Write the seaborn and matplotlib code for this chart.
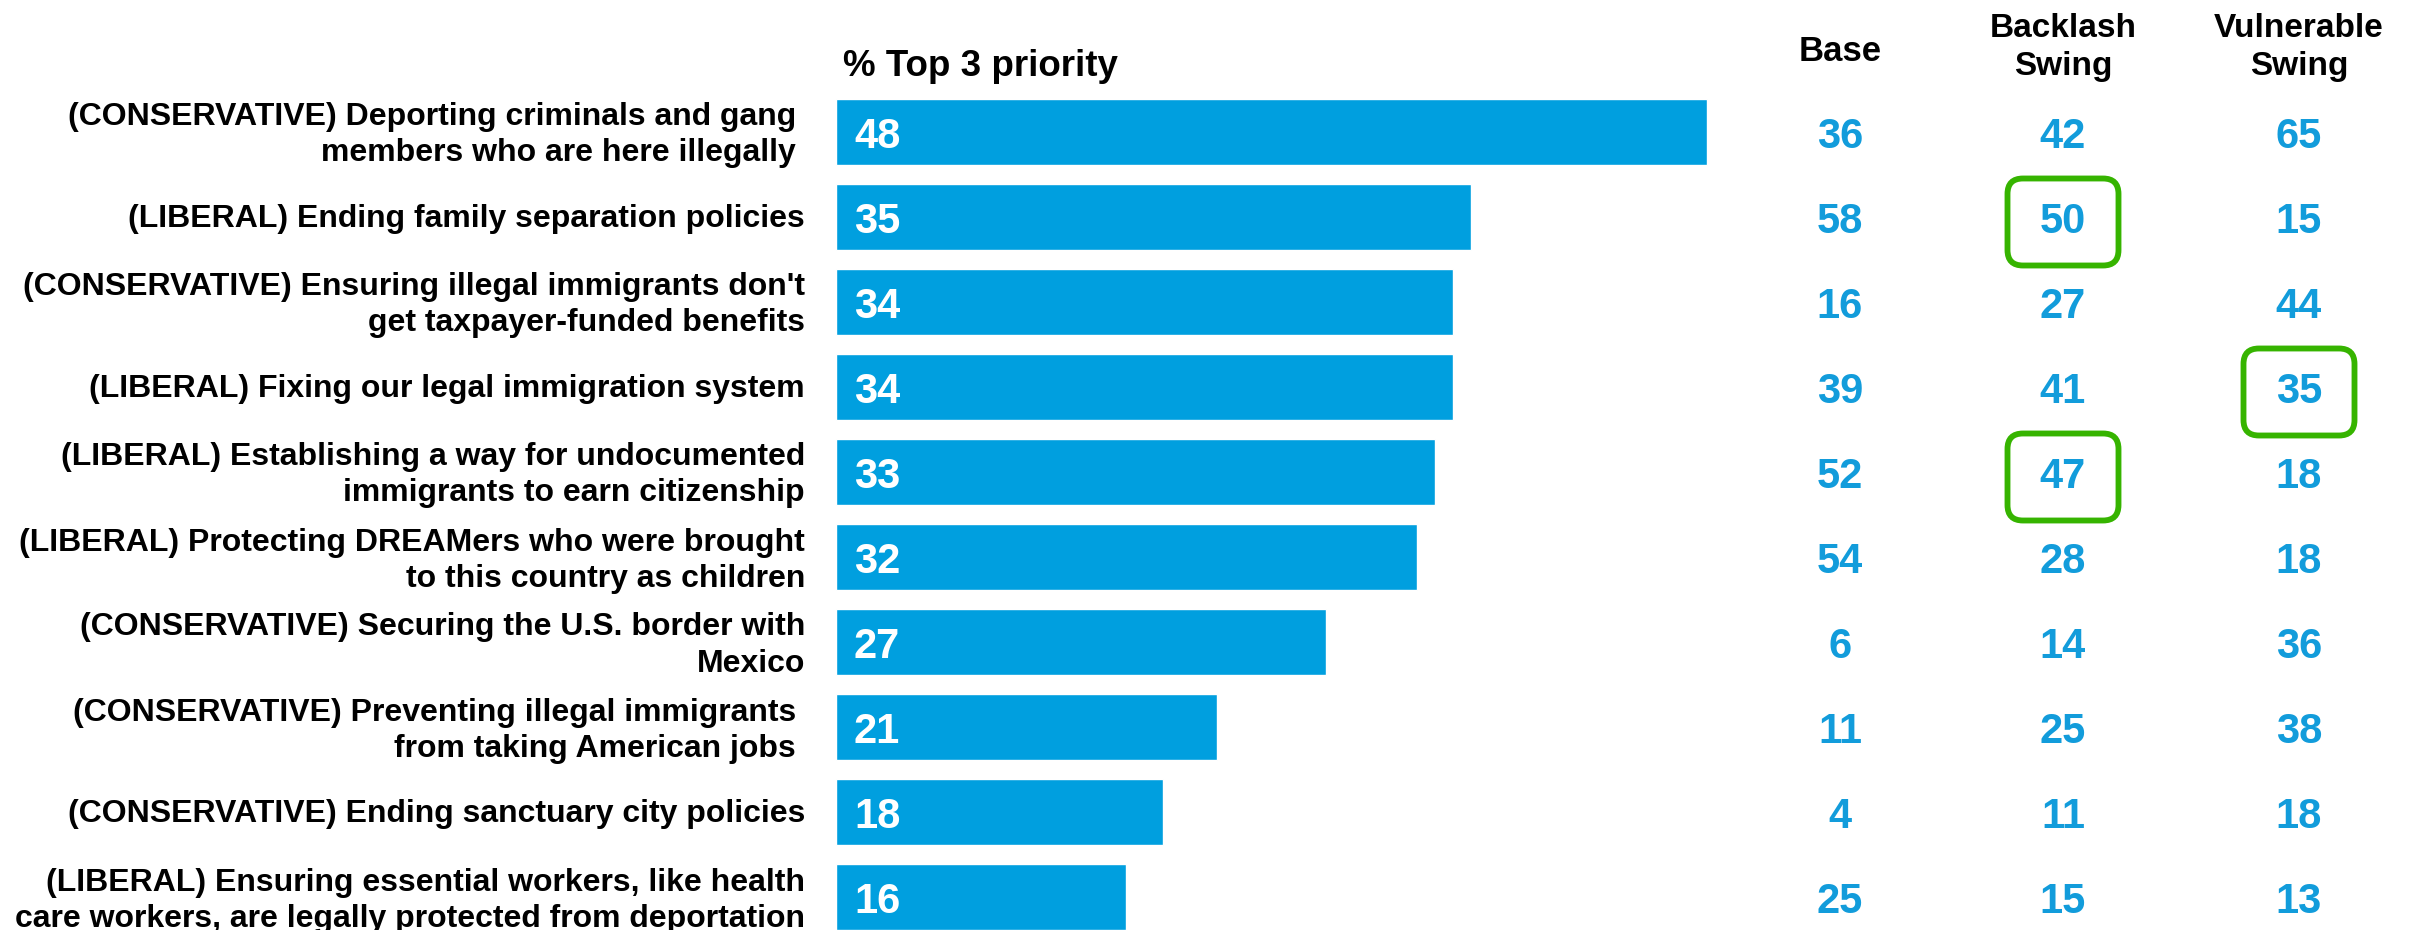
import matplotlib
matplotlib.use("Agg")
import matplotlib.pyplot as plt
from matplotlib.patches import FancyBboxPatch
import seaborn as sns
import pandas as pd

# ---- data ----
labels = [
    "(CONSERVATIVE) Deporting criminals and gang \nmembers who are here illegally ",
    "(LIBERAL) Ending family separation policies",
    "(CONSERVATIVE) Ensuring illegal immigrants don't\nget taxpayer-funded benefits",
    "(LIBERAL) Fixing our legal immigration system",
    "(LIBERAL) Establishing a way for undocumented\nimmigrants to earn citizenship",
    "(LIBERAL) Protecting DREAMers who were brought\nto this country as children",
    "(CONSERVATIVE) Securing the U.S. border with\nMexico",
    "(CONSERVATIVE) Preventing illegal immigrants \nfrom taking American jobs ",
    "(CONSERVATIVE) Ending sanctuary city policies",
    "(LIBERAL) Ensuring essential workers, like health\ncare workers, are legally protected from deportation",
]
top3 = [48, 35, 34, 34, 33, 32, 27, 21, 18, 16]
base = [36, 58, 16, 39, 52, 54, 6, 11, 4, 25]
backlash = [42, 50, 27, 41, 47, 28, 14, 25, 11, 15]
vulnerable = [65, 15, 44, 35, 18, 18, 36, 38, 18, 13]
column_titles = ["Base", "Backlash\nSwing", "Vulnerable\nSwing"]
bar_title = "% Top 3 priority"
highlights = [(1, 1), (4, 1), (3, 2)]  # (row, column index)

BLUE = "#009FDF"
NUM_BLUE = "#129CDB"
GREEN = "#36B400"

sns.set_theme(style="white")
plt.rcParams["font.family"] = ["Liberation Sans", "DejaVu Sans"]
plt.rcParams["font.weight"] = "bold"

W, H = 2422, 930
fig = plt.figure(figsize=(W / 100, H / 100), dpi=100)
ax = fig.add_axes([0, 0, 1, 1])

df = pd.DataFrame({"item": [str(i) for i in range(len(top3))], "value": top3})
sns.barplot(data=df, x="value", y="item", orient="h", color=BLUE,
            saturation=1, width=0.78, ax=ax)

# pixel mapping helpers
PX_PER_X = 18.15
X0 = 836
PX_PER_Y = 85.0
Y0 = 132
ax.set_xlim(-X0 / PX_PER_X, (W - X0) / PX_PER_X)
ax.set_ylim((H - Y0) / PX_PER_Y, -Y0 / PX_PER_Y)
ax.axis("off")

def px_x(px):
    return (px - X0) / PX_PER_X

def px_y(off):
    return off / PX_PER_Y

# category labels, line by line
label_x = px_x(805)
for i, lab in enumerate(labels):
    lines = lab.split("\n")
    n = len(lines)
    for j, line in enumerate(lines):
        if n == 1:
            yoff = 10
        else:
            yoff = 11.5 + (j - (n - 1) / 2) * 36
        ax.text(label_x, i + px_y(yoff), line, ha="right", va="baseline",
                fontsize=23, fontweight="bold", color="black")

# values inside bars
for i, v in enumerate(top3):
    ax.text(px_x(854), i + px_y(16), f"{v}", ha="left", va="baseline",
            fontsize=30, fontweight="bold", color="white")

# side columns
col_x = [px_x(1840), px_x(2063), px_x(2299)]
for cx, series in zip(col_x, [base, backlash, vulnerable]):
    for i, v in enumerate(series):
        ax.text(cx, i + px_y(16), f"{v}", ha="center", va="baseline",
                fontsize=30, fontweight="bold", color=NUM_BLUE)

# headers
ax.text(px_x(843), px_y(76 - Y0), bar_title, ha="left", va="baseline",
        fontsize=26.5, fontweight="bold", color="black")
for cx, title in zip(col_x, column_titles):
    lines = title.split("\n")
    if len(lines) == 1:
        ax.text(cx, px_y(61 - Y0), lines[0], ha="center", va="baseline",
                fontsize=25, fontweight="bold", color="black")
    else:
        for j, line in enumerate(lines):
            ax.text(cx, px_y(37 + 38 * j - Y0), line, ha="center",
                    va="baseline", fontsize=24, fontweight="bold",
                    color="black")

# green highlight boxes
bw = 111 / PX_PER_X
bh = 87 / PX_PER_Y
for r, c in highlights:
    cx = col_x[c]
    cy = r + px_y(5)
    patch = FancyBboxPatch((cx - bw / 2, cy - bh / 2), bw, bh,
                           boxstyle="round,pad=0,rounding_size=0.85",
                           mutation_aspect=PX_PER_X / PX_PER_Y,
                           fill=False, edgecolor=GREEN, linewidth=4.2,
                           zorder=5)
    ax.add_patch(patch)

fig.savefig("out.png", dpi=100, facecolor="white")
